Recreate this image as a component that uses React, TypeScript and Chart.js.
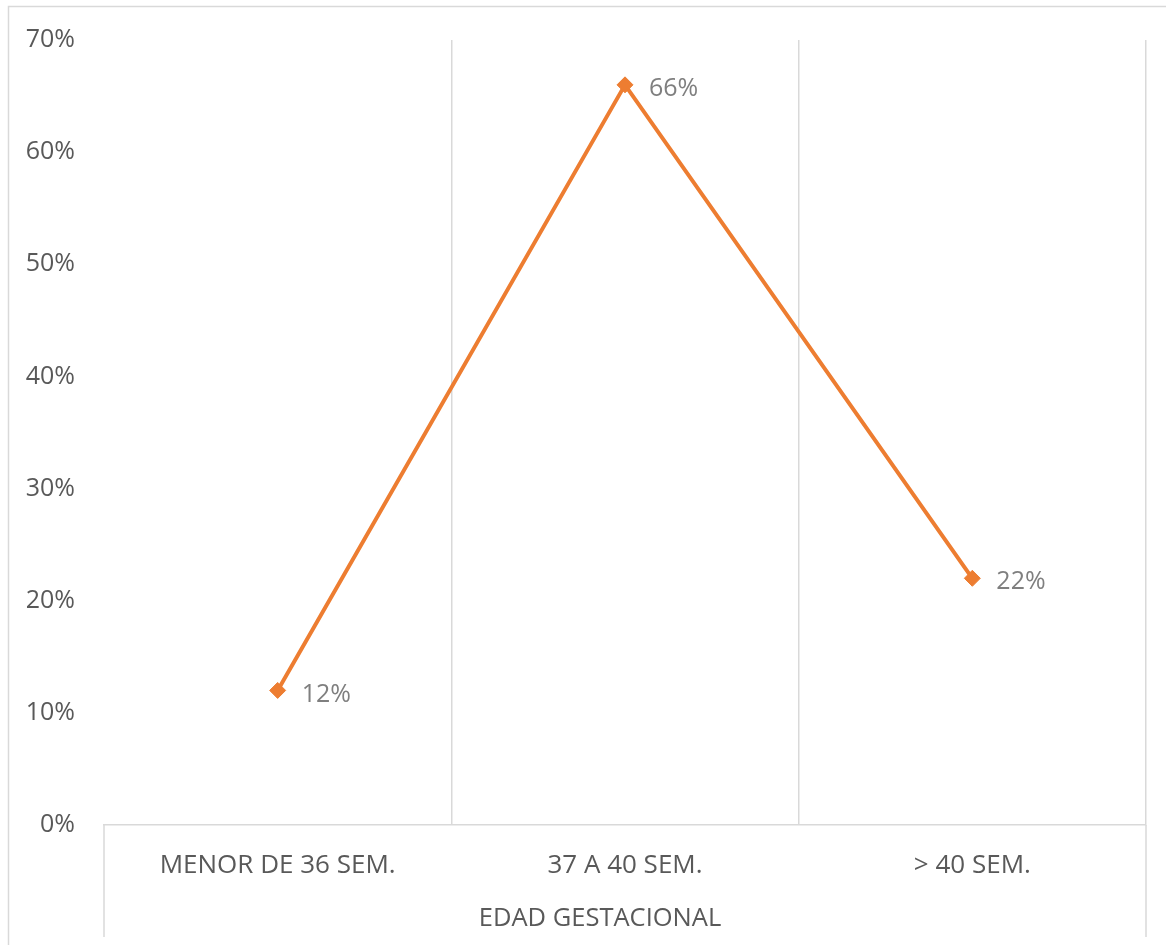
import React, { useEffect, useRef } from "react";
import { Chart, registerables } from "chart.js";

Chart.register(...registerables);

const categories = ["MENOR DE 36 SEM.", "37 A 40 SEM.", "> 40 SEM."];
const values = [12, 66, 22];
const yTicks = [0, 10, 20, 30, 40, 50, 60, 70];
const axisTitle = "EDAD GESTACIONAL";

const FONT = "'Open Sans', 'Liberation Sans', sans-serif";
const GRID = "#d9d9d9";
const TEXT = "#595959";
const LABEL = "#7f7f7f";
const ORANGE = "#ED7D31";

// Frame, category box and axis title drawn around the plot area
const decorations = {
  id: "decorations",
  beforeDraw(chart: any) {
    const { ctx } = chart;
    ctx.save();
    ctx.strokeStyle = GRID;
    ctx.lineWidth = 1.5;
    ctx.beginPath();
    ctx.moveTo(8.5, chart.height);
    ctx.lineTo(8.5, 6.5);
    ctx.lineTo(chart.width, 6.5);
    ctx.stroke();
    ctx.restore();
  },
  afterDraw(chart: any) {
    const { ctx, chartArea } = chart;
    const boxBottom = 937;
    ctx.save();
    ctx.strokeStyle = GRID;
    ctx.lineWidth = 1.5;
    ctx.beginPath();
    ctx.moveTo(chartArea.left, chartArea.bottom);
    ctx.lineTo(chartArea.left, boxBottom);
    ctx.moveTo(chartArea.right, chartArea.bottom);
    ctx.lineTo(chartArea.right, boxBottom);
    ctx.stroke();

    ctx.fillStyle = TEXT;
    ctx.font = `25.5px ${FONT}`;
    ctx.textAlign = "center";
    ctx.textBaseline = "middle";
    ctx.fillText(axisTitle, 600, 919);

    // value labels to the right of each point
    const meta = chart.getDatasetMeta(0);
    ctx.font = `25px ${FONT}`;
    ctx.fillStyle = LABEL;
    ctx.textAlign = "left";
    meta.data.forEach((pt: any, i: number) => {
      ctx.fillText(`${values[i]}%`, pt.x + 24, pt.y + 4);
    });
    ctx.restore();
  },
};

export default function App() {
  const ref = useRef<HTMLCanvasElement>(null);

  useEffect(() => {
    if (!ref.current) return;
    const chart = new Chart(ref.current, {
      type: "line",
      data: {
        labels: categories,
        datasets: [
          {
            data: values,
            borderColor: ORANGE,
            backgroundColor: ORANGE,
            borderWidth: 4,
            pointStyle: "rectRot",
            pointRadius: 8,
            pointBorderWidth: 1,
            pointBackgroundColor: ORANGE,
            pointBorderColor: ORANGE,
            tension: 0,
          },
        ],
      },
      options: {
        responsive: false,
        animation: false,
        layout: { padding: { left: 0, top: 40, right: 20, bottom: 0 } },
        plugins: {
          legend: { display: false },
          tooltip: { enabled: false },
          title: { display: false },
        },
        scales: {
          x: {
            type: "category",
            offset: true,
            grid: {
              offset: true,
              drawTicks: false,
              lineWidth: 1.5,
              color: (c: any) => (c.index === 0 ? "rgba(0,0,0,0)" : GRID),
            },
            border: { display: true, color: GRID, width: 1.5 },
            ticks: {
              color: TEXT,
              font: { family: FONT, size: 26 },
              padding: 25,
              maxRotation: 0,
              autoSkip: false,
            },
            afterFit: (s: any) => {
              s.height = 120;
              s.paddingLeft = 0;
              s.paddingRight = 0;
            },
          },
          y: {
            min: 0,
            max: 70,
            afterBuildTicks: (s: any) => {
              s.ticks = yTicks.map((v) => ({ value: v }));
            },
            grid: { display: false, drawTicks: false },
            border: { display: false },
            ticks: {
              color: TEXT,
              font: { family: FONT, size: 25 },
              padding: 29,
              callback: (v: any) => `${v}%`,
            },
            afterFit: (s: any) => {
              s.width = 104;
              s.paddingTop = 0;
              s.paddingBottom = 0;
            },
          },
        },
      },
      plugins: [decorations],
    });
    return () => chart.destroy();
  }, []);

  return (
    <div style={{ position: "absolute", left: 0, top: 0, width: 1166, height: 945, background: "#fff" }}>
      <canvas ref={ref} width={1166} height={945} />
    </div>
  );
}
